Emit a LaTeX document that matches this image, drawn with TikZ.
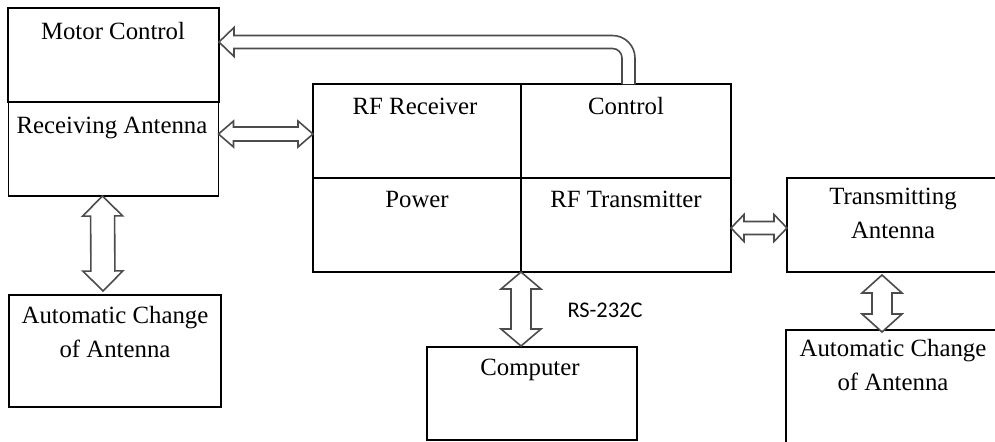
\documentclass[tikz,border=0pt]{standalone}
\usepackage{fontspec}
\setmainfont{Liberation Serif}
\newfontfamily\calibri{Carlito}
\usetikzlibrary{positioning,calc}

\tikzset{
    blk/.style={draw, line width=0.8pt, inner sep=0pt, outer sep=0pt},
    cell/.style={blk, minimum width=105pt, minimum height=47pt},
    lbl/.style={inner sep=0pt, font=\fontsize{12.4}{16.75}\selectfont, align=center},
    hollow/.style={draw=black!70, line width=0.8pt, fill=white},
}

% hollow two-headed arrow: ends, shaft half width, head half width, head length
\newcommand{\dblarrow}[5]{%
    \path (#1) coordinate (da-a) (#2) coordinate (da-b);
    \path ($(da-a)!#5!(da-b)$) coordinate (da-c) ($(da-b)!#5!(da-a)$) coordinate (da-d);
    \draw[hollow] (da-a) -- ($(da-c)!#4!90:(da-b)$) -- ($(da-c)!#3!90:(da-b)$)
        -- ($(da-d)!#3!-90:(da-a)$) -- ($(da-d)!#4!-90:(da-a)$) -- (da-b)
        -- ($(da-d)!#4!90:(da-a)$) -- ($(da-d)!#3!90:(da-a)$)
        -- ($(da-c)!#3!-90:(da-b)$) -- ($(da-c)!#4!-90:(da-b)$) -- cycle;
}

\begin{document}
\begin{tikzpicture}[x=0.5pt, y=-0.5pt]
    \clip (0,0) rectangle (995,441);

    % Left column
    \node[cell, minimum width=105.5pt] (motor) at (113.5,55) {};
    \node[cell, below=0pt of motor] (rxant) {};
    \node[blk, minimum width=106pt, minimum height=56pt] (autoL) at (115,351) {};
    \node[lbl, anchor=base] (tmotor) at (113,39) {Motor Control};
    \node[lbl, anchor=base] (trxant) at (112,133) {Receiving Antenna};
    \node[lbl, anchor=base] (tautoL) at (115,357) {Automatic Change\\of Antenna};

    % Central unit
    \node[cell, minimum width=104pt] (rfrx) at (417,131) {};
    \node[cell, right=0pt of rfrx] (ctrl) {};
    \node[cell, minimum width=104pt, below=0pt of rfrx] (power) {};
    \node[cell, below=0pt of ctrl] (rftx) {};
    \node[lbl, anchor=base] (trfrx) at (415,114) {RF Receiver};
    \node[lbl, anchor=base] (tctrl) at (626,114) {Control};
    \node[lbl, anchor=base] (tpower) at (417,207) {Power};
    \node[lbl, anchor=base] (trftx) at (626,207) {RF Transmitter};

    % Computer
    \node[blk, minimum width=105pt, minimum height=46.5pt] (computer) at (532,393.5) {};
    \node[lbl, anchor=base] (tcomp) at (530,375) {Computer};
    \node[font=\calibri\fontsize{11.2}{13}\selectfont, inner sep=0pt, anchor=base] (trs) at (605,317) {RS-232C};

    % Right column
    \node[blk, minimum width=106pt, minimum height=47pt] (txant) at (893,225) {};
    \node[blk, minimum width=107pt, minimum height=60pt] (autoR) at (893,390) {};
    \node[lbl, anchor=base] (ttxant) at (893,238) {Transmitting\\Antenna};
    \node[lbl, anchor=base] (tautoR) at (893,390) {Automatic Change\\of Antenna};

    % Arrows
    \coordinate (rxR) at ([yshift=7.5pt]rxant.east);
    \coordinate (rfL) at (rfrx.west |- rxR);
    \dblarrow{rxR}{rfL}{3.5pt}{6.5pt}{7.5pt}

    \coordinate (rxD) at ([xshift=-5.5pt]rxant.south);
    \coordinate (auU) at ([xshift=-6pt, yshift=2pt]autoL.north);
    \dblarrow{rxD}{auU}{6pt}{10pt}{10pt}

    \coordinate (pwD) at (power.south east);
    \coordinate (cpU) at ([xshift=-5.5pt, yshift=0.5pt]computer.north);
    \dblarrow{pwD}{cpU}{5pt}{10pt}{8.5pt}

    \coordinate (txE) at ([yshift=-1.5pt]rftx.east);
    \coordinate (taW) at (txant.west |- txE);
    \dblarrow{txE}{taW}{3.25pt}{6.75pt}{6.5pt}

    \coordinate (taS) at ([xshift=-5.5pt, yshift=-1.5pt]txant.south);
    \coordinate (arN) at ([xshift=-5.5pt, yshift=-1pt]autoR.north);
    \dblarrow{taS}{arN}{5pt}{10pt}{9pt}

    % Control -> Motor Control
    \coordinate (ctN) at ([xshift=1.25pt]ctrl.north);
    \coordinate (moE) at ([yshift=6.5pt]motor.east);
    \draw[hollow] let \p1=(ctN), \p2=(moE) in
        (\x1+3.25pt,\y1) -- (\x1+3.25pt,\y2-8pt) arc[start angle=0, end angle=90, radius=11.25pt]
        -- (\x2+7.5pt,\y2+3.25pt) -- (\x2+7.5pt,\y2+7.25pt) -- (\p2)
        -- (\x2+7.5pt,\y2-7.25pt) -- (\x2+7.5pt,\y2-3.25pt)
        -- (\x1-8pt,\y2-3.25pt) arc[start angle=90, end angle=0, radius=4.75pt] -- (\x1-3.25pt,\y1);
\end{tikzpicture}
\end{document}
